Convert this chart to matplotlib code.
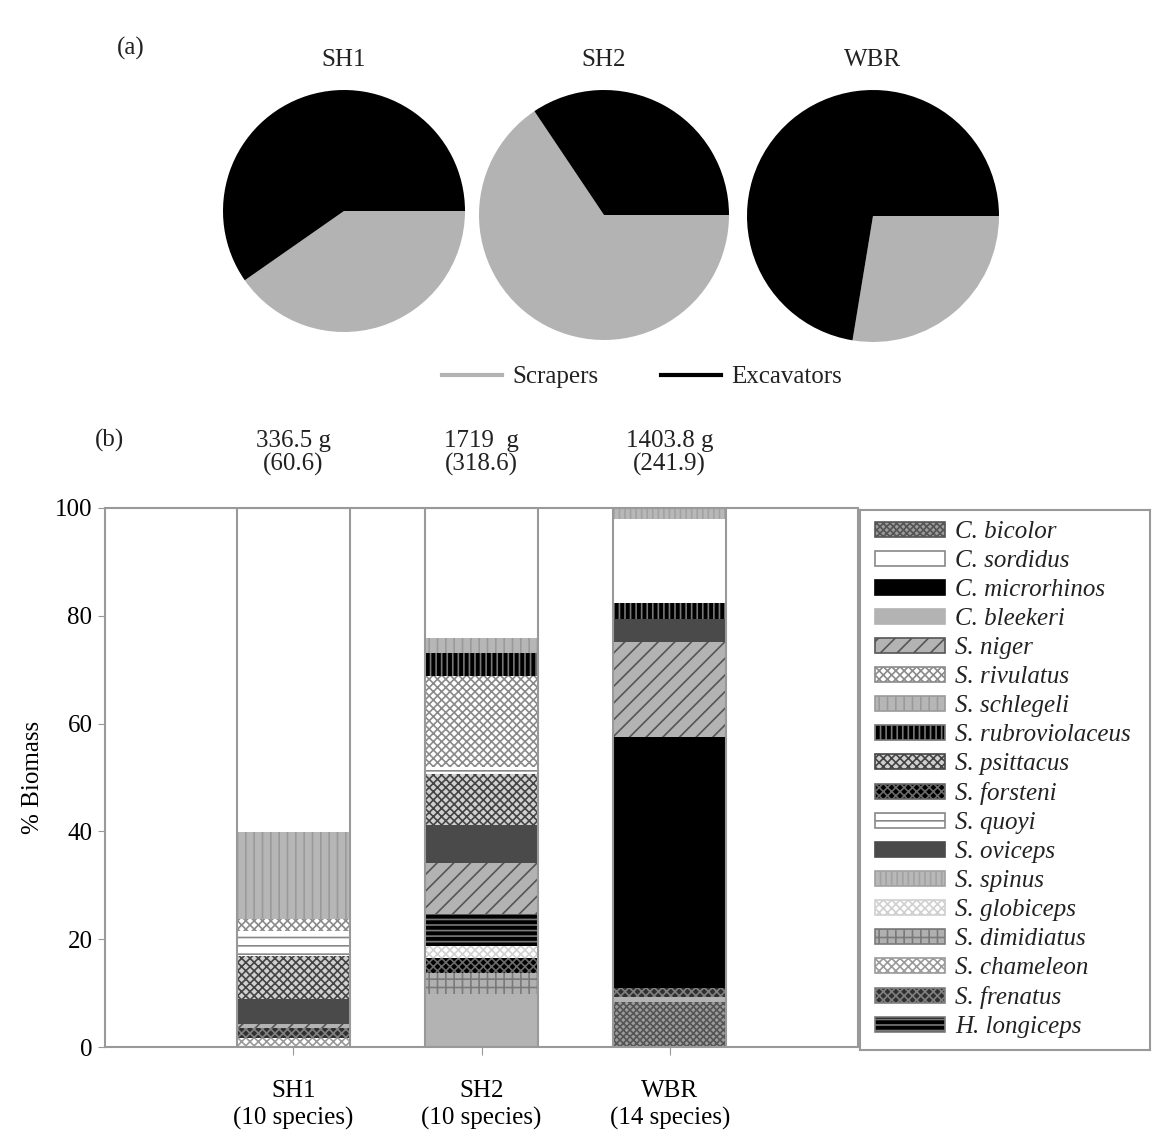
import numpy as np
import matplotlib
matplotlib.use("Agg")
import matplotlib.pyplot as plt
from matplotlib.patches import Patch
from matplotlib.lines import Line2D

plt.rcParams['font.family'] = ['Liberation Serif', 'DejaVu Serif']
plt.rcParams['hatch.linewidth'] = 1.2
plt.rcParams['text.color'] = '#222222'

# ---- data ----
sites = ["SH1", "SH2", "WBR"]
site_labels = ["SH1\n(10 species)", "SH2\n(10 species)", "WBR\n(14 species)"]
site_totals = ["336.5 g\n(60.6)", "1719  g\n(318.6)", "1403.8 g\n(241.9)"]

scrapers = [40.3, 65.6, 27.6]
excavators = [59.7, 34.4, 72.4]

# % biomass per species, [SH1, SH2, WBR]
bicolor        = [0.0, 0.0, 8.4]
bleekeri       = [0.0, 9.8, 0.9]
chameleon      = [1.7, 0.0, 0.0]
dimidiatus     = [0.0, 4.0, 0.0]
forsteni       = [0.0, 2.8, 0.0]
frenatus       = [1.8, 0.0, 1.7]
globiceps      = [0.0, 2.2, 0.0]
longiceps      = [0.0, 5.9, 0.0]
microrhinos    = [0.0, 0.0, 46.6]
niger          = [0.8, 9.5, 17.5]
oviceps        = [4.6, 6.9, 4.3]
psittacus      = [8.0, 9.6, 0.0]
quoyi          = [4.7, 1.3, 0.0]
rivulatus      = [2.2, 16.8, 0.0]
rubroviolaceus = [0.0, 4.3, 3.0]
schlegeli      = [16.0, 2.7, 0.0]
sordidus       = [60.2, 24.2, 15.5]
spinus         = [0.0, 0.0, 2.1]

# stacking order (bottom to top)
stack = [
    ("C. bicolor", bicolor), ("C. bleekeri", bleekeri), ("S. chameleon", chameleon),
    ("S. dimidiatus", dimidiatus), ("S. forsteni", forsteni), ("S. frenatus", frenatus),
    ("S. globiceps", globiceps), ("H. longiceps", longiceps), ("C. microrhinos", microrhinos),
    ("S. niger", niger), ("S. oviceps", oviceps), ("S. psittacus", psittacus),
    ("S. quoyi", quoyi), ("S. rivulatus", rivulatus), ("S. rubroviolaceus", rubroviolaceus),
    ("S. schlegeli", schlegeli), ("C. sordidus", sordidus), ("S. spinus", spinus),
]

legend_order = ["C. bicolor", "C. sordidus", "C. microrhinos", "C. bleekeri", "S. niger",
                "S. rivulatus", "S. schlegeli", "S. rubroviolaceus", "S. psittacus",
                "S. forsteni", "S. quoyi", "S. oviceps", "S. spinus", "S. globiceps",
                "S. dimidiatus", "S. chameleon", "S. frenatus", "H. longiceps"]

# face, hatch, hatch colour
styles = {
    "C. bicolor": ("#9c9c9c", "xxxxx", "#555555"),
    "C. sordidus": ("white", "", "#888888"),
    "C. microrhinos": ("black", "", "black"),
    "C. bleekeri": ("#b3b3b3", "", "#b3b3b3"),
    "S. niger": ("#b3b3b3", "//", "#555555"),
    "S. rivulatus": ("white", "xxxx", "#8a8a8a"),
    "S. schlegeli": ("#b6b6b6", "||", "#9a9a9a"),
    "S. rubroviolaceus": ("black", "|||", "#777777"),
    "S. psittacus": ("#d0d0d0", "xxxx", "#444444"),
    "S. forsteni": ("black", "xxxx", "#6a6a6a"),
    "S. quoyi": ("white", "--", "#888888"),
    "S. oviceps": ("#4a4a4a", "", "#4a4a4a"),
    "S. spinus": ("#b8b8b8", "|||", "#a2a2a2"),
    "S. globiceps": ("white", "xxxx", "#d0d0d0"),
    "S. dimidiatus": ("#b0b0b0", "++", "#7a7a7a"),
    "S. chameleon": ("white", "xxxx", "#9a9a9a"),
    "S. frenatus": ("#303030", "xxxx", "#808080"),
    "H. longiceps": ("black", "---", "#7a7a7a"),
}

FS = 18

fig = plt.figure(figsize=(11.52, 11.35), dpi=100)
W, H = 1152.0, 1135.0

# ---- (a) pies ----
pie_boxes = [(344, 211, 121), (604, 215, 125), (873, 216, 126)]
for i, (cx, cy, r) in enumerate(pie_boxes):
    pa = fig.add_axes([(cx - r) / W, 1 - (cy + r) / H, 2 * r / W, 2 * r / H])
    pa.pie([scrapers[i], excavators[i]], colors=["#b3b3b3", "black"],
           startangle=0, counterclock=False, radius=1.0)
    pa.set_xlim(-1.0, 1.0)
    pa.set_ylim(-1.0, 1.0)
    pa.set_aspect('auto')
    pa.axis('off')
    fig.text(cx / W, 1 - 60 / H, sites[i], ha='center', va='center', fontsize=FS)

fig.text(131 / W, 1 - 48 / H, "(a)", ha='center', va='center', fontsize=FS)

pie_handles = [Line2D([], [], color="#b3b3b3", lw=3), Line2D([], [], color="black", lw=3)]
fig.legend(pie_handles, ["Scrapers", "Excavators"], loc='center',
           bbox_to_anchor=(642 / W, 1 - 377 / H), ncol=2, frameon=False,
           fontsize=FS, handlelength=2.4, columnspacing=2.5, handletextpad=0.4)

# ---- (b) stacked bars ----
ax = fig.add_axes([105 / W, 1 - 1047 / H, 753 / W, 539 / H])
x = np.arange(1, len(sites) + 1)
bottom = np.zeros(len(sites))
for name, vals in stack:
    face, hatch, hc = styles[name]
    vals = np.array(vals)
    ax.bar(x, vals, width=0.6, bottom=bottom, color=face, hatch=hatch,
           edgecolor=hc, linewidth=0)
    bottom = bottom + vals
ax.bar(x, bottom, width=0.6, fill=False, edgecolor="#999999", linewidth=1.5)

ax.set_xlim(0, 4)
ax.set_ylim(0, 100)
ax.set_yticks([0, 20, 40, 60, 80, 100])
ax.set_xticks(x)
ax.set_xticklabels(site_labels, fontsize=FS, linespacing=1.25)
ax.tick_params(axis='x', length=6, color="#999999", pad=18, direction='out')
ax.tick_params(axis='y', length=5, color="#999999", labelsize=FS, pad=4)
for s in ax.spines.values():
    s.set_color("#999999")
    s.set_linewidth(1.5)
ax.set_ylabel("% Biomass", fontsize=FS, labelpad=8)

for i, t in enumerate(site_totals):
    ax.text(x[i], 1.102, t, transform=ax.get_xaxis_transform(), ha='center',
            va='center', fontsize=FS, linespacing=1.1)
fig.text(110 / W, 1 - 440 / H, "(b)", ha='center', va='center', fontsize=FS)

# ---- legend box ----
lax = fig.add_axes([860 / W, 1 - 1050 / H, 290 / W, 540 / H])
lax.set_xticks([])
lax.set_yticks([])
for s in lax.spines.values():
    s.set_color("#999999")
    s.set_linewidth(1.5)
handles = []
for name in legend_order:
    face, hatch, hc = styles[name]
    handles.append(Patch(facecolor=face, hatch=hatch, edgecolor=hc, linewidth=1.2))
lax.legend(handles, legend_order, loc='center left', bbox_to_anchor=(0.0, 0.5),
           borderaxespad=0, borderpad=0.6, frameon=False,
           prop={'style': 'italic', 'size': FS}, handlelength=2.8,
           handleheight=0.56, labelspacing=0.28, handletextpad=0.4)

fig.savefig("out.png", dpi=100)
